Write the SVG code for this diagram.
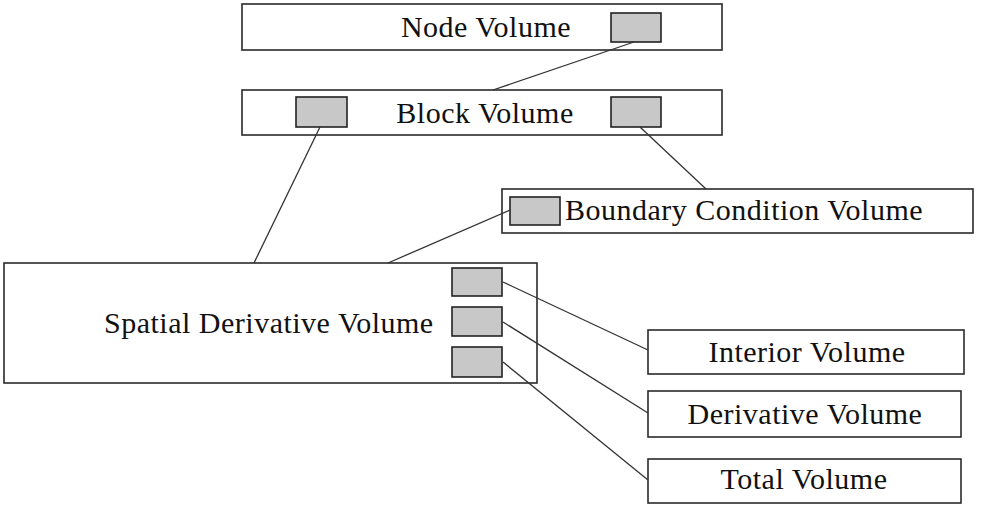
<svg xmlns="http://www.w3.org/2000/svg" width="990" height="506" viewBox="0 0 990 506">
<style>
.box{fill:#fff;stroke:#2a2a2a;stroke-width:1.6}
.port{fill:#c8c8c8;stroke:#222;stroke-width:1.6}
.lbl{font-family:"Liberation Serif","Times New Roman",serif;font-size:30px;letter-spacing:0.5px;fill:#111}
.mid{text-anchor:middle}
.conn line{stroke:#333;stroke-width:1.3}
</style>
<rect width="990" height="506" fill="#fff"/>
<g id="node-volume">
<rect class="box" x="242" y="4" width="480" height="46"/>
<text class="lbl mid" x="486" y="37">Node Volume</text>
<rect class="port" x="611" y="13" width="50" height="29"/>
</g>
<g id="block-volume">
<rect class="box" x="242" y="90" width="480" height="45"/>
<rect class="port" x="296" y="97" width="51" height="30"/>
<text class="lbl mid" x="485" y="123">Block Volume</text>
<rect class="port" x="611" y="97" width="50" height="30"/>
</g>
<g id="boundary-condition-volume">
<rect class="box" x="502" y="189" width="471" height="44"/>
<rect class="port" x="510" y="197" width="50" height="28"/>
<text class="lbl" x="565" y="220">Boundary Condition Volume</text>
</g>
<g id="spatial-derivative-volume">
<rect class="box" x="4" y="263" width="533" height="120"/>
<text class="lbl" x="104" y="333">Spatial Derivative Volume</text>
<rect class="port" x="452" y="268" width="50" height="28"/>
<rect class="port" x="452" y="307" width="50" height="29"/>
<rect class="port" x="452" y="347" width="50" height="30"/>
</g>
<g id="interior-volume">
<rect class="box" x="648" y="330" width="316" height="44"/>
<text class="lbl mid" x="807" y="362">Interior Volume</text>
</g>
<g id="derivative-volume">
<rect class="box" x="648" y="391" width="313" height="46"/>
<text class="lbl mid" x="805" y="424">Derivative Volume</text>
</g>
<g id="total-volume">
<rect class="box" x="648" y="459" width="313" height="44"/>
<text class="lbl mid" x="804" y="489">Total Volume</text>
</g>
<g id="connectors" class="conn">
<line x1="634" y1="42" x2="493" y2="90"/>
<line x1="320" y1="127" x2="254" y2="263"/>
<line x1="640" y1="127" x2="706" y2="189"/>
<line x1="510" y1="210" x2="388" y2="263"/>
<line x1="503" y1="282" x2="648" y2="350"/>
<line x1="503" y1="322" x2="648" y2="413"/>
<line x1="503" y1="362" x2="648" y2="480"/>
</g>
</svg>
